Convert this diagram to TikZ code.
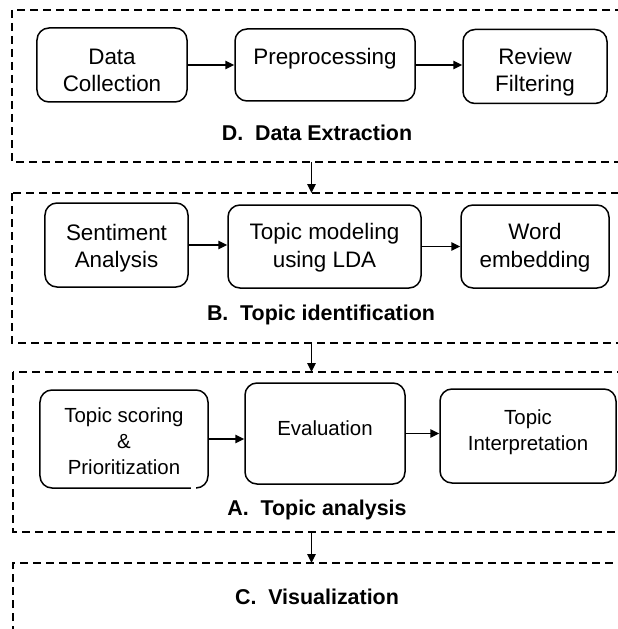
\documentclass[tikz,border=0pt]{standalone}
\usepackage{fontspec}
\setmainfont{Liberation Sans}
\usetikzlibrary{arrows.meta}
% #1 = raise of the last baseline relative to the node centre
\newcommand{\boxtext}[2]{\raisebox{#1}[0pt][0pt]{\begin{tabular}[b]{@{}c@{}}#2\end{tabular}}}
\begin{document}
\begin{tikzpicture}[x=1bp,y=-1bp,
  stage/.style={draw, line width=1.4bp, dash pattern=on 8bp off 5bp},
  proc/.style={draw, line width=1.5bp, rounded corners=12bp, align=center, inner sep=0pt, font=\fontsize{22.5}{27.5}\selectfont},
  proc3/.style={proc, font=\fontsize{20.5}{26}\selectfont},
  title/.style={font=\fontsize{21.5}{25}\selectfont\bfseries},
  flow/.style={-{Triangle[length=9bp,width=8.5bp]}, line width=1.5bp}
]
\useasboundingbox (0,0) rectangle (618,629);
\fill[white] (0,0) rectangle (618,629);
\begin{scope}
\clip (0,0) rectangle (618,629);
% stage frames
\draw[stage] (12,10) rectangle (640,162);
\draw[stage] (12,193) rectangle (640,343);
\draw[stage] (13,372) rectangle (640,532);
\draw[stage] (13,660) -- (13,563) -- (640,563);

% row 1
\node[proc, minimum width=150bp, minimum height=74bp] (dc) at (112,65) {\boxtext{-26.5bp}{Data\\Collection}};
\node[proc, minimum width=180bp, minimum height=72bp] (pp) at (325,65) {\boxtext{0bp}{Preprocessing}};
\node[proc, minimum width=144bp, minimum height=74bp] (rf) at (535,66.5) {\boxtext{-25.5bp}{Review\\Filtering}};
\draw[flow] (dc.east) -- (dc.east -| pp.west);
\draw[flow] (pp.east) -- (pp.east -| rf.west);
\node[title] (tD) at (317,133) {D.\hspace{0.55em}Data Extraction};

% row 2
\node[proc, minimum width=143bp, minimum height=84bp] (sa) at (116.5,245) {\boxtext{-22.5bp}{Sentiment\\Analysis}};
\node[proc, minimum width=193bp, minimum height=83bp] (tm) at (324.5,246.5) {\boxtext{-20.5bp}{Topic modeling\\using LDA}};
\node[proc, minimum width=148bp, minimum height=83bp] (we) at (535,246.5) {\boxtext{-20.5bp}{Word\\embedding}};
\draw[flow] (sa.east) -- (sa.east -| tm.west);
\draw[flow] (tm.east) -- (tm.east -| we.west);
\node[title] (tB) at (321,315) {B.\hspace{0.55em}Topic identification};

% row 3
\node[proc3, minimum width=168bp, minimum height=98bp] (ts) at (124,439) {\boxtext{-35.5bp}{Topic scoring\\\&\\Prioritization}};
\node[proc3, minimum width=160bp, minimum height=101bp] (ev) at (325,433.5) {\boxtext{-1.5bp}{Evaluation}};
\node[proc3, minimum width=176bp, minimum height=94bp] (ti) at (528,436) {\boxtext{-14.5bp}{Topic\\Interpretation}};
\draw[white, line width=3bp] (191,488) -- (195.5,488);
\draw[flow] (ts.east) -- (ts.east -| ev.west);
\draw[flow] (ev.east) -- (ev.east -| ti.west);
\node[title] (tA) at (317,510) {A.\hspace{0.55em}Topic analysis};

% row 4
\node[title] (tC) at (317,597) {C.\hspace{0.55em}Visualization};

% connectors between stages
\coordinate (d1) at (311.5,162);
\coordinate (b0) at (311.5,193);
\coordinate (b1) at (311.5,343);
\coordinate (a0) at (311.5,372);
\coordinate (a1) at (311.5,532);
\coordinate (c0) at (311.5,563);
\draw[flow] (d1) -- (b0);
\draw[flow] (b1) -- (a0);
\draw[flow] (a1) -- (c0);
\end{scope}
\end{tikzpicture}
\end{document}
